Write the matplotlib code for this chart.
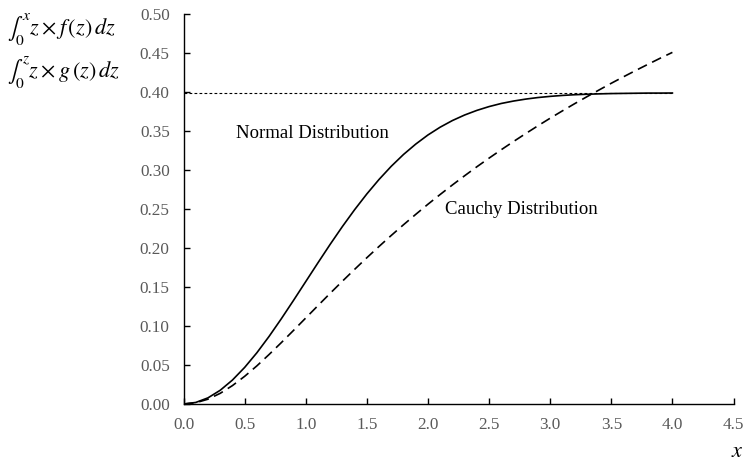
import matplotlib
matplotlib.use("Agg")
import matplotlib.pyplot as plt

plt.rcParams["font.family"] = ["Liberation Serif", "DejaVu Serif"]
plt.rcParams["mathtext.fontset"] = "stix"

# partial expectations integrated from 0 to x, sampled every 0.1
x_vals = [round(0.1 * i, 1) for i in range(41)]
normal_vals = [
    0.0000, 0.0020, 0.0079, 0.0176, 0.0307, 0.0469, 0.0657, 0.0867, 0.1093, 0.1329,
    0.1570, 0.1811, 0.2048, 0.2276, 0.2492, 0.2694, 0.2880, 0.3049, 0.3200, 0.3333,
    0.3450, 0.3550, 0.3635, 0.3706, 0.3765, 0.3814, 0.3854, 0.3885, 0.3910, 0.3930,
    0.3945, 0.3957, 0.3966, 0.3972, 0.3977, 0.3981, 0.3983, 0.3985, 0.3987, 0.3987,
    0.3988,
]
cauchy_vals = [
    0.0000, 0.0016, 0.0062, 0.0137, 0.0236, 0.0355, 0.0489, 0.0635, 0.0787, 0.0944,
    0.1103, 0.1262, 0.1420, 0.1575, 0.1727, 0.1876, 0.2021, 0.2162, 0.2299, 0.2432,
    0.2562, 0.2687, 0.2809, 0.2927, 0.3042, 0.3153, 0.3261, 0.3366, 0.3468, 0.3568,
    0.3665, 0.3759, 0.3851, 0.3940, 0.4027, 0.4113, 0.4196, 0.4277, 0.4356, 0.4434,
    0.4509,
]
limit_val = 0.3989  # 1 / sqrt(2*pi)

x_ticks = [0.0, 0.5, 1.0, 1.5, 2.0, 2.5, 3.0, 3.5, 4.0, 4.5]
y_ticks = [0.00, 0.05, 0.10, 0.15, 0.20, 0.25, 0.30, 0.35, 0.40, 0.45, 0.50]

fig = plt.figure(figsize=(7.5, 4.62), dpi=100)
ax = fig.add_axes([0.2447, 0.1255, 0.7333, 0.844])

ax.plot([x_vals[0], x_vals[-1]], [limit_val, limit_val], color="black",
        lw=0.8, linestyle=(0, (2.5, 2)))
ax.plot(x_vals, normal_vals, color="black", lw=1.2)
ax.plot(x_vals, cauchy_vals, color="black", lw=1.2, linestyle=(0, (6, 3.5)))

ax.set_xlim(0, 4.5)
ax.set_ylim(0, 0.5)
ax.set_xticks(x_ticks)
ax.set_yticks(y_ticks)
ax.set_xticklabels([f"{v:.1f}" for v in x_ticks])
ax.set_yticklabels([f"{v:.2f}" for v in y_ticks])
ax.tick_params(direction="in", length=4, width=1, colors="black",
               labelcolor="#595959", labelsize=12.3)
ax.tick_params(axis="y", pad=10)
ax.tick_params(axis="x", pad=9)
for side in ["top", "right"]:
    ax.spines[side].set_visible(False)
for side in ["left", "bottom"]:
    ax.spines[side].set_linewidth(1)

ax.text(0.43, 0.347, "Normal Distribution", fontsize=13.5, ha="left", va="center")
ax.text(2.14, 0.249, "Cauchy Distribution", fontsize=13.5, ha="left", va="center")

fig.text(0.009, 0.937, r"$\int_0^x z\times f\,(z)\,dz$", fontsize=16,
         ha="left", va="center")
fig.text(0.009, 0.845, r"$\int_0^z z\times g\,(z)\,dz$", fontsize=16,
         ha="left", va="center")
fig.text(0.991, 0.02, r"$x$", fontsize=16, ha="right", va="center")

fig.savefig("out.png", dpi=100)
